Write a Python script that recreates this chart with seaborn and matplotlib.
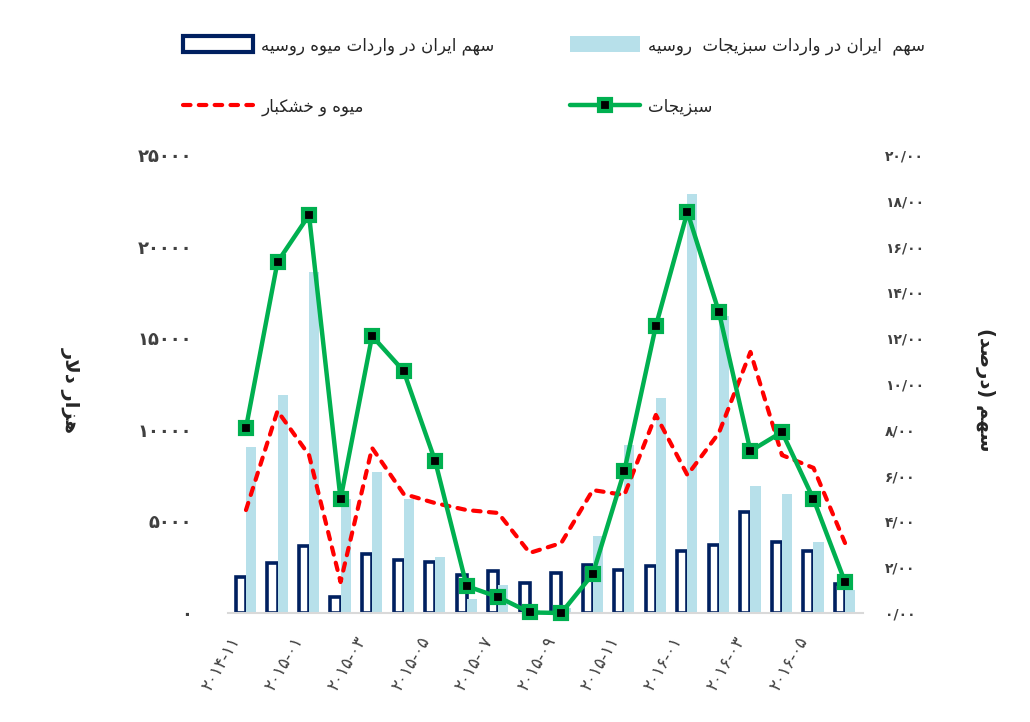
# ---------------- imports ----------------
import numpy as np
import pandas as pd
import matplotlib
matplotlib.use('Agg')
import matplotlib.pyplot as plt
import matplotlib.patches as mpatches
from matplotlib.lines import Line2D
from matplotlib.transforms import ScaledTranslation
import seaborn as sns

sns.set_theme(style='white')
plt.rcParams['font.family'] = ['DejaVu Sans']

# ---------------- data ----------------
months = ['2014-11', '2014-12', '2015-01', '2015-02', '2015-03', '2015-04', '2015-05',
          '2015-06', '2015-07', '2015-08', '2015-09', '2015-10', '2015-11', '2015-12',
          '2016-01', '2016-02', '2016-03', '2016-04', '2016-05', '2016-06']
# share of Iran in Russia imports (percent) -> right axis, bars
fruit_share = [1.57, 2.18, 2.93, 0.70, 2.58, 2.31, 2.23, 1.66, 1.83, 1.31,
               1.75, 2.10, 1.88, 2.05, 2.71, 2.97, 4.41, 3.10, 2.71, 1.27]
veg_share = [7.25, 9.52, 14.89, 5.00, 6.16, 4.98, 2.45, 0.61, 1.22, 0.15,
             0.20, 3.36, 7.34, 9.39, 18.30, 12.97, 5.55, 5.20, 3.10, 1.00]
# thousand dollars -> left axis, lines
fruit_value = [5620, 11030, 8620, 1690, 9010, 6500, 6000, 5620, 5460, 3280,
               3820, 6710, 6440, 10810, 7530, 9830, 14250, 8620, 7920, 3820]
veg_value = [10100, 19160, 21720, 6220, 15120, 13210, 8300, 1470, 870, 30,
             0, 2130, 7750, 15670, 21890, 16430, 8840, 9880, 6220, 1690]

left_ticks = [0, 5000, 10000, 15000, 20000, 25000]
right_ticks = [0, 2, 4, 6, 8, 10, 12, 14, 16, 18, 20]
xtick_pos = [0, 2, 4, 6, 8, 10, 12, 14, 16, 18]

lbl_fruit_share = 'سهم ایران در واردات میوه روسیه'
lbl_veg_share = 'سهم  ایران در واردات سبزیجات  روسیه'
lbl_fruit = 'میوه و خشکبار'
lbl_veg = 'سبزیجات'
lbl_left = 'هزار دلار'
lbl_right = 'سهم (درصد)'

# ---------------- persian text helpers ----------------
# letter -> (first presentation form, joins to the left)
LETTERS = {'ا': (0xFE8D, False), 'ب': (0xFE8F, True), 'پ': (0xFB56, True),
           'ت': (0xFE95, True), 'ج': (0xFE9D, True), 'چ': (0xFB7A, True),
           'خ': (0xFEA5, True), 'د': (0xFEA9, False), 'ر': (0xFEAD, False),
           'ز': (0xFEAF, False), 'س': (0xFEB1, True), 'ش': (0xFEB5, True),
           'ص': (0xFEB9, True), 'ک': (0xFB8E, True), 'ل': (0xFEDD, True),
           'م': (0xFEE1, True), 'ن': (0xFEE5, True), 'ه': (0xFEE9, True),
           'و': (0xFEED, False), 'ی': (0xFBFC, True)}


def fa(text):
    out = []
    i = 0
    while i < len(text):
        ch = text[i]
        if ch not in LETTERS:
            out.append(ch)
            i += 1
            continue
        prev = text[i - 1] if i > 0 else ''
        jp = prev in LETTERS and LETTERS[prev][1]
        if ch == 'ل' and i + 1 < len(text) and text[i + 1] == 'ا':
            out.append('\uFEFC' if jp else '\uFEFB')
            i += 2
            continue
        base, dual = LETTERS[ch]
        nxt = text[i + 1] if i + 1 < len(text) else ''
        jn = dual and nxt in LETTERS
        out.append(chr(base + {(False, False): 0, (True, False): 1,
                               (False, True): 2, (True, True): 3}[(jp, jn)]))
        i += 1
    return ''.join(out)[::-1].translate(str.maketrans('()', ')('))


def fa_digits(s):
    return s.translate(str.maketrans('0123456789', '۰۱۲۳۴۵۶۷۸۹'))


navy = '#002060'
light = '#b7e0ea'
green = '#00b050'
red = '#ff0000'
txt = '#404040'

# ---------------- figure ----------------
fig = plt.figure(figsize=(10.3, 7.22), dpi=100)
ax = fig.add_axes([228 / 1030, 1 - 613 / 722, 635 / 1030, 458 / 722])

df_bars = pd.DataFrame({'month': months * 2,
                        'share': fruit_share + veg_share,
                        'series': ['fruit'] * len(months) + ['veg'] * len(months)})
sns.barplot(data=df_bars, x='month', y='share', hue='series', order=months,
            palette=[navy, light], saturation=1, width=0.64, gap=0,
            legend=False, ax=ax)
for bar in ax.containers[0]:
    bar.set_facecolor('white')
    bar.set_edgecolor(navy)
    bar.set_linewidth(2.6)
for bar in ax.containers[1]:
    bar.set_linewidth(0)

ax2 = ax.twinx()
x_idx = np.arange(len(months))
sns.lineplot(x=x_idx, y=fruit_value, ax=ax2, color=red, lw=3,
             dashes=False, clip_on=False)
ax2.lines[-1].set_dashes((1.8, 2.0))
ax2.lines[-1].set_dash_capstyle('round')
sns.lineplot(x=x_idx, y=veg_value, ax=ax2, color=green, lw=3.2,
             marker='s', markersize=9, markerfacecolor='black',
             markeredgecolor=green, markeredgewidth=3, clip_on=False)

ax.set_xlim(-0.57, len(months) - 0.43)
ax.set_ylim(0, 20)
ax2.set_ylim(0, 25000)

# bars axis on the right
ax.yaxis.tick_right()
ax.set_yticks(right_ticks)
ax.set_yticklabels([fa_digits(f'{v}/00') for v in right_ticks],
                   fontsize=10, fontweight='bold', color=txt)
ax.tick_params(axis='y', length=0, pad=16)
ax.set_xticks(xtick_pos)
ax.set_xticklabels([fa_digits(months[i]) for i in xtick_pos], rotation=60,
                   ha='right', va='center', rotation_mode='anchor',
                   fontsize=12, color=txt)
ax.tick_params(axis='x', length=0, pad=18)
shift = ScaledTranslation(-7 / 72, 0, fig.dpi_scale_trans)
for t in ax.get_xticklabels():
    t.set_transform(t.get_transform() + shift)
ax.set_xlabel('')
ax.set_ylabel('')

# lines axis on the left
ax2.yaxis.tick_left()
ax2.set_yticks(left_ticks)
ax2.set_yticklabels([fa_digits(str(v)) for v in left_ticks],
                    fontsize=13, fontweight='bold', color=txt)
ax2.tick_params(axis='y', length=0, pad=26)
ax2.set_ylabel('')

for a in (ax, ax2):
    for s in a.spines.values():
        s.set_visible(False)
ax.spines['bottom'].set_visible(True)
ax.spines['bottom'].set_color('#d9d9d9')
ax.spines['bottom'].set_linewidth(1.5)

fig.text(70 / 1030, 1 - 390 / 722, fa(lbl_left), rotation=-90, ha='center',
         va='center', fontsize=14, fontweight='bold', color='#262626')
fig.text(985 / 1030, 1 - 390 / 722, fa(lbl_right), rotation=-90, ha='center',
         va='center', fontsize=14, fontweight='bold', color='#262626')

# ---------------- legend ----------------
handles = [mpatches.Patch(facecolor='white', edgecolor=navy, linewidth=3),
           Line2D([], [], color=red, lw=3, dashes=(1.8, 2.0), dash_capstyle='round'),
           mpatches.Patch(facecolor=light, linewidth=0),
           Line2D([], [], color=green, lw=3.2, marker='s', markersize=9,
                  markerfacecolor='black', markeredgecolor=green, markeredgewidth=3)]
labels = [fa(lbl_fruit_share), fa(lbl_fruit), fa(lbl_veg_share), fa(lbl_veg)]
fig.legend(handles, labels, loc='upper left', bbox_to_anchor=(183 / 1030, 1 - 36 / 722),
           ncol=2, frameon=False, fontsize=12, handlelength=4.2, handleheight=1.1,
           labelspacing=2.6, columnspacing=4.5, borderpad=0, borderaxespad=0,
           handletextpad=0.5, labelcolor='#262626')

plt.savefig('out.png', dpi=100)
